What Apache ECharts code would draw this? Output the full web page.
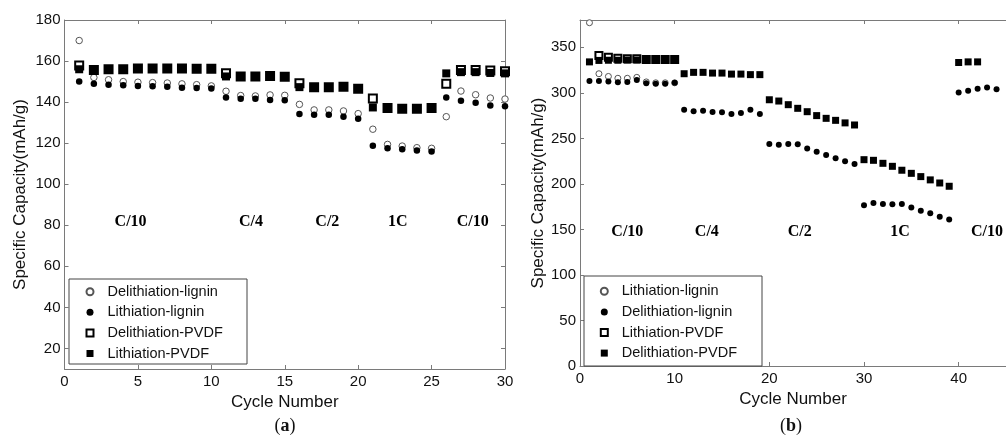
<!DOCTYPE html>
<html>
<head>
<meta charset="utf-8">
<script src="https://cdn.jsdelivr.net/npm/echarts@6/dist/echarts.min.js"></script>
<style>html,body{margin:0;padding:0;background:#fff}#c{width:1006px;height:445px}</style>
</head>
<body>
<div id="c"></div>
<script>
// ---------- Panel (a) data ----------
const cyclesA = [1,2,3,4,5,6,7,8,9,10,11,12,13,14,15,16,17,18,19,20,21,22,23,24,25,26,27,28,29,30];
const delithLigninA = [170,152,150.9,150,149.7,149.5,149.3,148.9,148.5,147.9,145.3,143.2,143,143.5,143.3,138.9,136.2,136.2,135.7,134.4,126.8,119.4,118.6,117.8,117.5,132.9,145.4,143.6,142,141.5];
const lithLigninA   = [150,149,148.5,148.2,147.9,147.7,147.5,147,146.9,146.6,142.3,141.7,141.7,141,140.9,134.2,133.9,133.9,132.9,131.9,118.8,117.5,117,116.4,115.9,142.2,140.7,139.7,138.4,138];
const delithPVDFA   = [157.8,155.7,156,156,156.4,156.4,156.4,156.4,156.2,156.2,154.1,152.5,152.5,152.7,152.3,149.2,147.3,147.3,147.5,146.5,141.8,137.1,136.8,136.8,137.1,149,155.6,155.6,155.4,155];
const lithPVDFA     = [156,155.7,156,156,156.4,156.4,156.4,156.4,156.2,156.2,152.5,152.5,152.5,152.7,152.3,147.3,147.3,147.3,147.5,146.5,137.4,137.1,136.8,136.8,137.1,154,154.6,154.6,154.2,154];
const yTicksA = [20,40,60,80,100,120,140,160,180];
const rateNamesA = ['C/10','C/4','C/2','1C','C/10'];
const rateXA = [4.5,12.7,17.9,22.7,27.8];
const rateYA = [81.6,81.6,81.6,81.6,81.6];

// ---------- Panel (b) data ----------
const cyclesB = [1,2,3,4,5,6,7,8,9,10,11,12,13,14,15,16,17,18,19,20,21,22,23,24,25,26,27,28,29,30,31,32,33,34,35,36,37,38,39,40,41,42,43,44];
const lithLigninB   = [377,321,318,316,316,317,312,311,311,311];
const delithLigninB = [313,313,312.5,311.5,312,314,310.5,310,310,311,281.5,279.7,280.4,278.9,278.6,276.7,277.8,281.5,276.7,243.9,243,243.9,243.5,239,235.4,231.8,228.1,224.8,221.9,176.5,179.1,178,177.7,178,174,170.4,167.8,163.8,160.9,300.4,302.3,304.5,306,304];
const lithPVDFB     = [null,341,339,338,337.5,337.5,336.5,336.5,336.5,336.5];
const delithPVDFB   = [334,335.6,335.8,335.8,336,336,336,336,336,336,321,322.5,322.5,321.7,321.7,320.6,320.6,320,320,292.4,291,287,283,279.3,275,272,269.8,267,264.7,226.6,225.9,222.6,219.3,215,211.6,208,204.4,201,197.4,333.3,334,334];
const rateNamesB = ['C/10','C/4','C/2','1C','C/10'];
const rateXB = [5.0,13.4,23.2,33.8,43.0];
const rateYB = [147,147,147,147,147];

const pts = (xs, ys) => xs.map((x, i) => [x, ys[i]]).filter(p => p[1] != null && p[1] !== undefined);
const labelPts = (names, xs, ys) => names.map((n, i) => ({name: n, value: [xs[i], ys[i]]}));

const AX = '#7a7a7a', TXT = '#111';
const FONT = 'Liberation Sans, Arial, sans-serif';
const SERIF = 'Liberation Serif, Times New Roman, serif';

function xAx(grid, max, interval, pos, showLabel, name) {
  return {
    type: 'value', gridIndex: grid, min: 0, max: max, interval: interval, position: pos,
    axisLine: {show: true, onZero: false, lineStyle: {color: AX, width: 1}},
    axisTick: {show: true, inside: true, length: 4, lineStyle: {color: AX}},
    axisLabel: {show: showLabel, color: TXT, fontSize: 15, fontFamily: FONT, margin: 5, showMinLabel: true, showMaxLabel: max === 30},
    splitLine: {show: false},
    name: name || '', nameLocation: 'middle', nameGap: 22,
    nameTextStyle: {color: TXT, fontSize: 17, fontFamily: FONT}
  };
}
function legendOf(left, top, names, icons) {
  return {
    left: left, top: top, orient: 'vertical', padding: 0, itemGap: 5.6, itemWidth: 7, itemHeight: 7,
    selectedMode: false, formatter: n => n.split('|')[1],
    textStyle: {color: TXT, fontSize: 14.5, fontFamily: FONT, padding: [0, 0, 0, 9]},
    data: names.map((n, i) => ({name: n, icon: icons[i]}))
  };
}
const rateLabel = {show: true, position: 'inside', formatter: '{b}', color: '#000', opacity: 1,
  textBorderWidth: 0, fontFamily: SERIF, fontWeight: 'bold', fontSize: 16};
const caption = (t, x) => ({text: '(' + '{b|' + t + '})', left: x, top: 412, textAlign: 'center',
  textStyle: {fontFamily: SERIF, fontSize: 18, fontWeight: 'normal', color: TXT,
    rich: {b: {fontFamily: SERIF, fontSize: 18, fontWeight: 'bold', color: TXT}}}});

const option = {
  animation: false,
  backgroundColor: '#fff',
  grid: [
    {left: 64.5, top: 20, width: 440.5, height: 349},
    {left: 580, top: 20, width: 435, height: 346}
  ],
  xAxis: [
    xAx(0, 30, 5, 'bottom', true, 'Cycle Number'),
    xAx(0, 30, 5, 'top', false),
    xAx(1, 45, 10, 'bottom', true, 'Cycle Number'),
    xAx(1, 45, 10, 'top', false)
  ],
  yAxis: [
    {
      type: 'value', gridIndex: 0, min: 10, max: 180, position: 'left',
      axisLine: {show: true, onZero: false, lineStyle: {color: AX}},
      axisTick: {show: true, inside: true, length: 4, lineStyle: {color: AX}, customValues: yTicksA},
      axisLabel: {color: TXT, fontSize: 15, fontFamily: FONT, margin: 4, customValues: yTicksA},
      splitLine: {show: false},
      name: 'Specific Capacity(mAh/g)', nameLocation: 'middle', nameGap: 36,
      nameTextStyle: {color: TXT, fontSize: 17, fontFamily: FONT}
    },
    {
      type: 'value', gridIndex: 0, min: 10, max: 180, position: 'right',
      axisLine: {show: true, onZero: false, lineStyle: {color: AX}},
      axisTick: {show: true, inside: true, length: 4, lineStyle: {color: AX}, customValues: yTicksA},
      axisLabel: {show: false, customValues: yTicksA},
      splitLine: {show: false}
    },
    {
      type: 'value', gridIndex: 1, min: 0, max: 380, interval: 50, position: 'left',
      axisLine: {show: true, onZero: false, lineStyle: {color: AX}},
      axisTick: {show: true, inside: true, length: 4, lineStyle: {color: AX}},
      axisLabel: {color: TXT, fontSize: 15, fontFamily: FONT, margin: 4, showMaxLabel: false},
      splitLine: {show: false},
      name: 'Specific Capacity(mAh/g)', nameLocation: 'middle', nameGap: 28,
      nameTextStyle: {color: TXT, fontSize: 17, fontFamily: FONT}
    }
  ],
  legend: [
    legendOf(85.5, 284.2,
      ['a|Delithiation-lignin', 'a|Lithiation-lignin', 'a|Delithiation-PVDF', 'a|Lithiation-PVDF'],
      ['circle', 'circle', 'rect', 'rect']),
    legendOf(599.8, 283.8,
      ['b|Lithiation-lignin', 'b|Delithiation-lignin', 'b|Lithiation-PVDF', 'b|Delithiation-PVDF'],
      ['circle', 'circle', 'rect', 'rect'])
  ],
  title: [caption('a', 280), caption('b', 786)],
  graphic: [
    {type: 'rect', z: 3, shape: {x: 69, y: 279, width: 178, height: 85}, style: {fill: '#fff', stroke: '#444', lineWidth: 1}},
    {type: 'rect', z: 3, shape: {x: 584, y: 276, width: 178, height: 90}, style: {fill: '#fff', stroke: '#444', lineWidth: 1}}
  ],
  series: [
    // panel a
    {name: 'a|Delithiation-lignin', type: 'scatter', xAxisIndex: 0, yAxisIndex: 0, z: 2, symbol: 'circle', symbolSize: 6.5,
     itemStyle: {color: '#fff', borderColor: '#555', borderWidth: 1, opacity: 1}, data: pts(cyclesA, delithLigninA)},
    {name: 'a|Delithiation-PVDF', type: 'scatter', xAxisIndex: 0, yAxisIndex: 0, z: 2, symbol: 'rect', symbolSize: 8,
     itemStyle: {color: '#fff', borderColor: '#000', borderWidth: 2, opacity: 1}, data: pts(cyclesA, delithPVDFA)},
    {name: 'a|Lithiation-lignin', type: 'scatter', xAxisIndex: 0, yAxisIndex: 0, z: 3, symbol: 'circle', symbolSize: 6.5,
     itemStyle: {color: '#000', opacity: 1}, data: pts(cyclesA, lithLigninA)},
    {name: 'a|Lithiation-PVDF', type: 'scatter', xAxisIndex: 0, yAxisIndex: 0, z: 3, symbol: 'rect', symbolSize: 8,
     itemStyle: {color: '#000', opacity: 1}, data: pts(cyclesA, lithPVDFA)},
    // panel b
    {name: 'b|Lithiation-lignin', type: 'scatter', xAxisIndex: 2, yAxisIndex: 2, z: 2, symbol: 'circle', symbolSize: 6,
     itemStyle: {color: '#fff', borderColor: '#555', borderWidth: 1, opacity: 1}, data: pts(cyclesB, lithLigninB)},
    {name: 'b|Lithiation-PVDF', type: 'scatter', xAxisIndex: 2, yAxisIndex: 2, z: 2, symbol: 'rect', symbolSize: 7,
     itemStyle: {color: '#fff', borderColor: '#000', borderWidth: 2, opacity: 1}, data: pts(cyclesB, lithPVDFB)},
    {name: 'b|Delithiation-lignin', type: 'scatter', xAxisIndex: 2, yAxisIndex: 2, z: 3, symbol: 'circle', symbolSize: 6,
     itemStyle: {color: '#000', opacity: 1}, data: pts(cyclesB, delithLigninB)},
    {name: 'b|Delithiation-PVDF', type: 'scatter', xAxisIndex: 2, yAxisIndex: 2, z: 3, symbol: 'rect', symbolSize: 7,
     itemStyle: {color: '#000', opacity: 1}, data: pts(cyclesB, delithPVDFB)},
    // rate labels
    {name: 'rateA', type: 'scatter', xAxisIndex: 0, yAxisIndex: 0, symbolSize: 1, silent: true, z: 4,
     itemStyle: {color: 'rgba(0,0,0,0)'}, label: rateLabel, data: labelPts(rateNamesA, rateXA, rateYA)},
    {name: 'rateB', type: 'scatter', xAxisIndex: 2, yAxisIndex: 2, symbolSize: 1, silent: true, z: 4, clip: false,
     itemStyle: {color: 'rgba(0,0,0,0)'}, label: rateLabel, data: labelPts(rateNamesB, rateXB, rateYB)}
  ]
};
const chart = echarts.init(document.getElementById('c'), null, {renderer: 'canvas'});
chart.setOption(option);
</script>
</body>
</html>
